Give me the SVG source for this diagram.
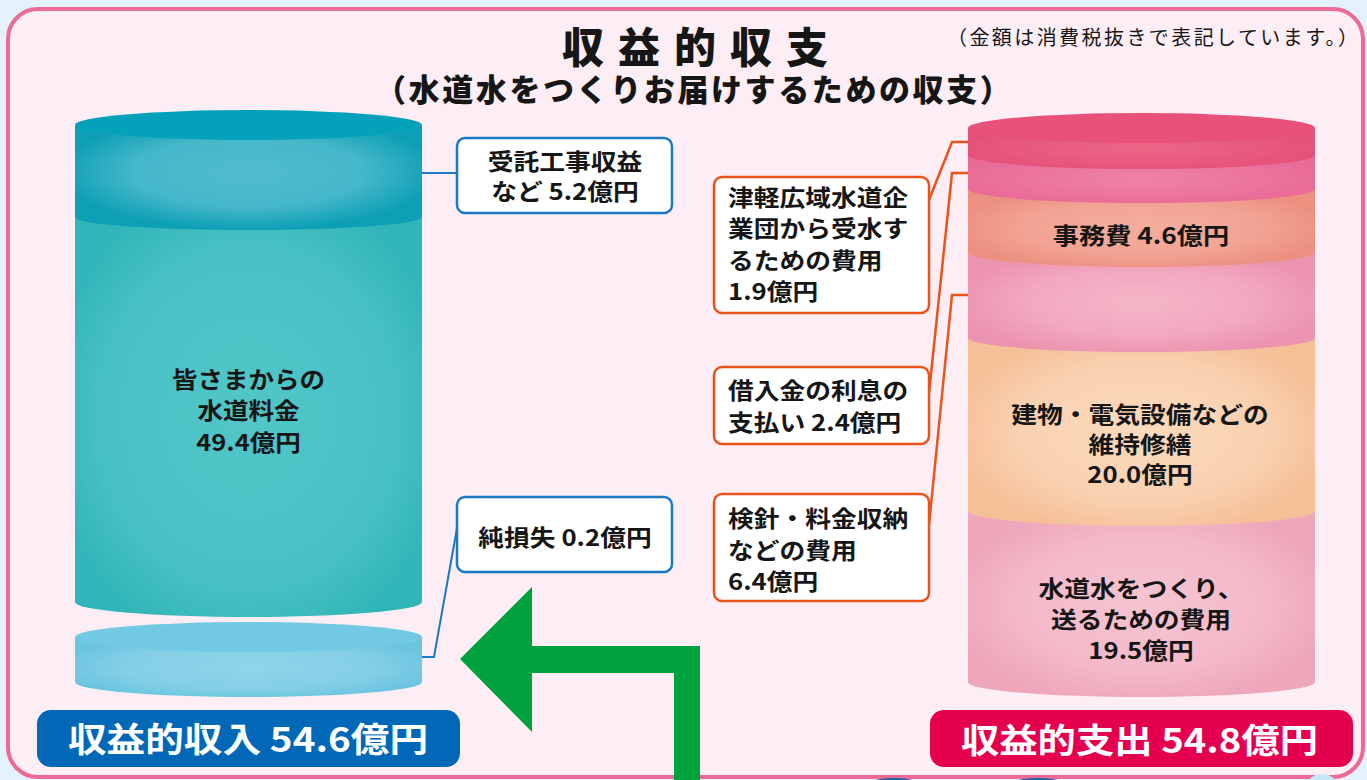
<svg xmlns="http://www.w3.org/2000/svg" width="1367" height="780" viewBox="0 0 1367 780">
<style>
text{font-family:"Noto Sans CJK JP","Noto Sans",sans-serif;fill:#161616}
.lbl{font-size:23px;font-weight:700}
.mid{text-anchor:middle}
.box-b{fill:#fff;stroke:#1b78c2;stroke-width:2.5}
.box-o{fill:#fff;stroke:#e8541c;stroke-width:2.5}
.ln-b{fill:none;stroke:#1b78c2;stroke-width:2}
.ln-o{fill:none;stroke:#e8541c;stroke-width:2.5}
.big{font-size:34px;font-weight:700;fill:#fff}
</style>
<defs>
<radialGradient id="gTealTop" cx=".5" cy=".45" r=".55"><stop offset="0" stop-color="#50bccd"/><stop offset=".6" stop-color="#45b7ca"/><stop offset="1" stop-color="#0d9fb6"/></radialGradient>
<radialGradient id="gTeal" cx=".5" cy=".5" r=".6"><stop offset="0" stop-color="#52c6c9"/><stop offset=".7" stop-color="#48c1c4"/><stop offset="1" stop-color="#30b5b8"/></radialGradient>
<radialGradient id="gSky" cx=".5" cy=".5" r=".55"><stop offset="0" stop-color="#8fd4ea"/><stop offset=".65" stop-color="#84cfe7"/><stop offset="1" stop-color="#6cc5df"/></radialGradient>
<radialGradient id="gR1" cx=".5" cy=".5" r=".55"><stop offset="0" stop-color="#ec6787"/><stop offset="1" stop-color="#e5507a"/></radialGradient>
<radialGradient id="gR2" cx=".5" cy=".5" r=".55"><stop offset="0" stop-color="#ef82a6"/><stop offset="1" stop-color="#e96b97"/></radialGradient>
<radialGradient id="gR3" cx=".5" cy=".5" r=".55"><stop offset="0" stop-color="#f4ae9e"/><stop offset=".6" stop-color="#f2a494"/><stop offset="1" stop-color="#ec9080"/></radialGradient>
<radialGradient id="gR4" cx=".5" cy=".5" r=".55"><stop offset="0" stop-color="#f5b6c8"/><stop offset=".6" stop-color="#f2a8bf"/><stop offset="1" stop-color="#ec93b0"/></radialGradient>
<radialGradient id="gR5" cx=".5" cy=".5" r=".55"><stop offset="0" stop-color="#fbdabd"/><stop offset=".65" stop-color="#f9d1b0"/><stop offset="1" stop-color="#f5c098"/></radialGradient>
<radialGradient id="gR6" cx=".5" cy=".5" r=".55"><stop offset="0" stop-color="#f6c4d1"/><stop offset=".65" stop-color="#f4b9c9"/><stop offset="1" stop-color="#eea6bb"/></radialGradient>
</defs>

<rect width="1367" height="780" fill="#e4f3fb"/>
<rect x="8" y="9" width="1355" height="768" rx="30" fill="#fdeef5" stroke="#ec6a94" stroke-width="4"/>

<g id="bottom-edge">
<ellipse cx="894" cy="792" rx="36" ry="14" fill="#1763aa"/>
<ellipse cx="1038" cy="792" rx="38" ry="14" fill="#1763aa"/>
<circle cx="1322" cy="792" r="18" fill="#c5e8f5"/>
</g>

<g id="titles">
<text font-weight="900"><tspan x="562" y="63" font-size="42" letter-spacing="14">収益的収支</tspan><tspan x="375" y="101" font-size="31" letter-spacing="2.6">（水道水をつくりお届けするための収支）</tspan></text>
<text x="947" y="45" font-size="20" textLength="411" lengthAdjust="spacing">（金額は消費税抜きで表記しています。）</text>
</g>

<g id="green-arrow">
<path d="M700,782 V646 H532 V587 L460,659 L532,732 V673 H674 V782 Z" fill="#00a23d"/>
</g>

<g id="connectors">
<path class="ln-b" d="M422,173 H457"/>
<path class="ln-b" d="M422,657 H434 L457,528"/>
<path class="ln-o" d="M929,200 L952,142 H968"/>
<path class="ln-o" d="M929,393 L952,173 H968"/>
<path class="ln-o" d="M929,525 L952,295 H968"/>
</g>

<g id="income-cylinder">
<g id="seg-loss">
<path d="M75,637 V682 A173.5,15 0 0 0 422,682 V637 Z" fill="url(#gSky)"/>
<ellipse cx="248.5" cy="637" rx="173.5" ry="15" fill="#72c9e3"/>
</g>
<g id="seg-fees">
<path d="M75,217 V602 A173.5,15 0 0 0 422,602 V217 Z" fill="url(#gTeal)"/>
<text class="lbl mid" transform="translate(248.5 0) scale(1.11 1)"><tspan x="0" y="388">皆さまからの</tspan><tspan x="0" y="419.5">水道料金</tspan><tspan x="0" y="451">49.4億円</tspan></text>
</g>
<g id="seg-contract">
<path d="M75,125 V217 A173.5,13 0 0 0 422,217 V125 Z" fill="url(#gTealTop)"/>
<ellipse cx="248.5" cy="125" rx="173.5" ry="15" fill="#05a1ba"/>
</g>
</g>

<g id="expense-cylinder">
<g id="seg-water">
<path d="M968,511 V682 A173.5,15 0 0 0 1315,682 V511 Z" fill="url(#gR6)"/>
<text class="lbl mid" transform="translate(1141 0) scale(1.12 1)"><tspan x="0" y="597">水道水をつくり、</tspan><tspan x="0" y="628">送るための費用</tspan><tspan x="0" y="659">19.5億円</tspan></text>
</g>
<g id="seg-repair">
<path d="M968,338 V511 A173.5,15 0 0 0 1315,511 V338 Z" fill="url(#gR5)"/>
<text class="lbl mid" transform="translate(1140 0) scale(1.12 1)"><tspan x="0" y="423">建物・電気設備などの</tspan><tspan x="0" y="453">維持修繕</tspan><tspan x="0" y="483">20.0億円</tspan></text>
</g>
<g id="seg-meter">
<path d="M968,252 V338 A173.5,14 0 0 0 1315,338 V252 Z" fill="url(#gR4)"/>
</g>
<g id="seg-office">
<path d="M968,189 V252 A173.5,15 0 0 0 1315,252 V189 Z" fill="url(#gR3)"/>
<text class="lbl mid" transform="translate(1141 0) scale(1.14 1)" y="244">事務費 4.6億円</text>
</g>
<g id="seg-interest">
<path d="M968,155 V189 A173.5,14 0 0 0 1315,189 V155 Z" fill="url(#gR2)"/>
</g>
<g id="seg-bulk">
<path d="M968,128 V155 A173.5,14 0 0 0 1315,155 V128 Z" fill="url(#gR1)"/>
<ellipse cx="1141.5" cy="128" rx="173.5" ry="15" fill="#e8517a"/>
</g>
</g>

<g id="box-contract">
<rect class="box-b" x="457" y="138" width="215" height="75" rx="8"/>
<text class="lbl mid" transform="translate(565 0) scale(1.12 1)"><tspan x="0" y="170.5">受託工事収益</tspan><tspan x="0" y="200.5">など 5.2億円</tspan></text>
</g>
<g id="box-loss">
<rect class="box-b" x="457" y="497" width="215" height="75" rx="8"/>
<text class="lbl mid" transform="translate(565 0) scale(1.12 1)" y="546">純損失 0.2億円</text>
</g>

<g id="box-bulk">
<rect class="box-o" x="714" y="177" width="215" height="136" rx="8"/>
<text class="lbl" transform="translate(728 0) scale(1.12 1)"><tspan x="0" y="206">津軽広域水道企</tspan><tspan x="0" y="237">業団から受水す</tspan><tspan x="0" y="269">るための費用</tspan><tspan x="0" y="300">1.9億円</tspan></text>
</g>
<g id="box-interest">
<rect class="box-o" x="714" y="367" width="215" height="77" rx="8"/>
<text class="lbl" transform="translate(728 0) scale(1.12 1)"><tspan x="0" y="399">借入金の利息の</tspan><tspan x="0" y="431">支払い 2.4億円</tspan></text>
</g>
<g id="box-meter">
<rect class="box-o" x="714" y="494" width="215" height="107" rx="8"/>
<text class="lbl" transform="translate(728 0) scale(1.12 1)"><tspan x="0" y="527">検針・料金収納</tspan><tspan x="0" y="559">などの費用</tspan><tspan x="0" y="590">6.4億円</tspan></text>
</g>

<g id="total-income">
<rect x="37" y="710" width="423" height="57" rx="14" fill="#0068b7"/>
<text class="big" x="68" y="752" textLength="360" lengthAdjust="spacingAndGlyphs">収益的収入 54.6億円</text>
</g>
<g id="total-expense">
<rect x="930" y="710" width="423" height="57" rx="14" fill="#e4004f"/>
<text class="big" x="961" y="753" textLength="357" lengthAdjust="spacingAndGlyphs">収益的支出 54.8億円</text>
</g>
</svg>
